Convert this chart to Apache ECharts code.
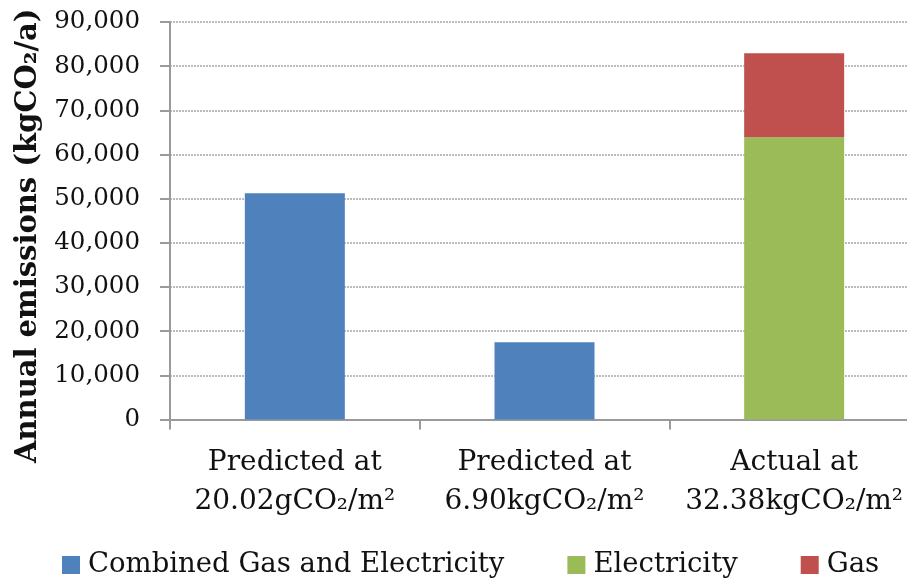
<!DOCTYPE html>
<html>
<head>
<meta charset="utf-8">
<script src="https://cdn.jsdelivr.net/npm/echarts@6/dist/echarts.min.js"></script>
<style>
  html, body { margin: 0; padding: 0; background: #fff; }
  #chart { width: 907px; height: 580px; }
</style>
</head>
<body>
<div id="chart"></div>
<script>
// Annual CO2 emissions: predicted vs. actual
const categories = [
  'Predicted at\n20.02gCO\u2082/m\u00b2',
  'Predicted at\n6.90kgCO\u2082/m\u00b2',
  'Actual at\n32.38kgCO\u2082/m\u00b2'
];
const combinedGasElectricity = [51200, 17500, '-'];
const electricity = ['-', '-', 63900];
const gas = ['-', '-', 19000];
const seriesNames = ['Combined Gas and Electricity', 'Electricity', 'Gas'];
const yAxisTitle = 'Annual emissions (kgCO\u2082/a)';

const FONT = '"DejaVu Serif", "Liberation Serif", serif';
const AXIS_GREY = '#9a9a9a';

const chart = echarts.init(document.getElementById('chart'), null, { renderer: 'canvas' });

function barSeries(name, data, color) {
  return {
    name: name,
    type: 'bar',
    stack: 'total',
    data: data,
    barWidth: 100,
    itemStyle: { color: color },
    emphasis: { disabled: true }
  };
}

chart.setOption({
  animation: false,
  backgroundColor: '#fff',
  textStyle: { fontFamily: FONT },
  // the plot runs on past the right edge of the page
  grid: {
    left: 170, width: 749, top: 22, height: 397.5,
    containLabel: false,
    outerBoundsMode: 'none'
  },
  legend: {
    bottom: -4,
    left: 57,
    itemWidth: 18,
    itemHeight: 18,
    itemGap: 63,
    icon: 'rect',
    textStyle: { fontFamily: FONT, fontSize: 27.5, color: '#111', padding: [0, 0, 0, 3] },
    data: seriesNames
  },
  xAxis: {
    type: 'category',
    data: categories,
    axisLine: { lineStyle: { color: AXIS_GREY, width: 2 } },
    axisTick: { show: true, length: 10, lineStyle: { color: AXIS_GREY, width: 2 } },
    axisLabel: {
      interval: 0,
      margin: 24,
      fontFamily: FONT,
      fontSize: 28,
      lineHeight: 39,
      color: '#111'
    }
  },
  yAxis: {
    type: 'value',
    min: 0,
    max: 90000,
    interval: 10000,
    name: yAxisTitle,
    nameLocation: 'middle',
    nameGap: 127,
    nameRotate: 90,
    nameTextStyle: {
      fontFamily: FONT,
      fontSize: 29,
      fontWeight: 'bold',
      color: '#111',
      padding: [0, 30, 0, 0]
    },
    axisLine: { show: true, lineStyle: { color: AXIS_GREY, width: 2 } },
    axisTick: { show: true, length: 10, lineStyle: { color: AXIS_GREY, width: 2 } },
    axisLabel: {
      margin: 30,
      fontFamily: FONT,
      fontSize: 24.5,
      color: '#111',
      formatter: function (v) { return v.toLocaleString('en-US'); }
    },
    splitLine: { show: true, lineStyle: { color: '#a6a6a6', width: 1.5, type: [2, 1] } }
  },
  series: [
    barSeries(seriesNames[0], combinedGasElectricity, '#4F81BD'),
    barSeries(seriesNames[1], electricity, '#9BBB59'),
    barSeries(seriesNames[2], gas, '#C0504D')
  ]
});
</script>
</body>
</html>
